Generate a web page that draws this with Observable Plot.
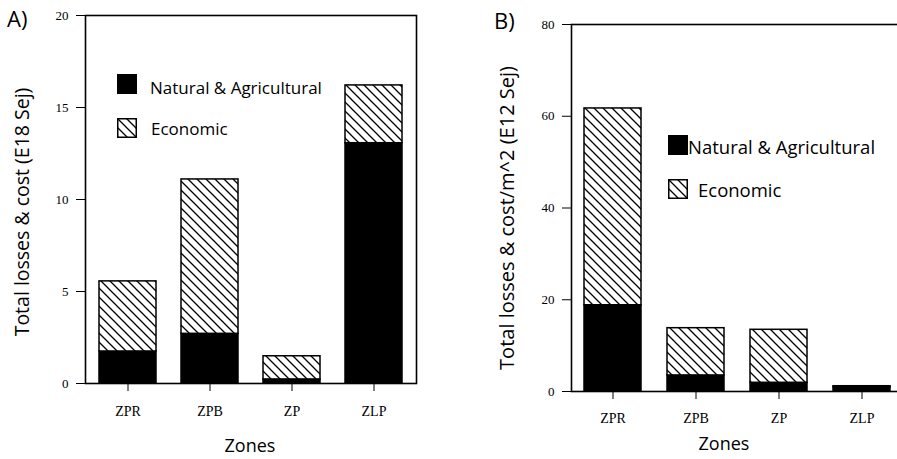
<!DOCTYPE html>
<html><head><meta charset="utf-8">
<script src="https://cdn.jsdelivr.net/npm/d3@7"></script>
<script src="https://cdn.jsdelivr.net/npm/@observablehq/plot@0.6"></script>
<style>
html,body{margin:0;padding:0;width:897px;height:459px;overflow:hidden;background:#fff;}
#root{position:relative;width:897px;height:459px;}
.abs{position:absolute;line-height:1;white-space:nowrap;}
.sans{font-family:"Open Sans",Lato,sans-serif;color:#000;}
.ytitle{position:absolute;line-height:1;transform-origin:center center;transform:translate(-50%,-50%) rotate(-90deg);white-space:nowrap;}
.leg{position:absolute;white-space:nowrap;line-height:1;}
</style>
</head><body>
<svg width="0" height="0" style="position:absolute">
 <defs>
  <pattern id="hatch" patternUnits="userSpaceOnUse" width="9" height="9">
   <rect width="9" height="9" fill="#fff"/>
   <path d="M-2,-2 L11,11 M-2,7 L2,11 M7,-2 L11,2" stroke="#000" stroke-width="1.3"/>
  </pattern>
 </defs>
</svg>
<div id="root"></div>
<script>
const zones = ["ZPR","ZPB","ZP","ZLP"];
const types = ["Natural & Agricultural","Economic"];
// Panel A: Total losses & cost (E18 Sej)
const naturalA = [1.74, 2.7, 0.22, 13.06];
const economicA = [3.81, 8.39, 1.26, 3.14];
const ticksA = [0,5,10,15,20];
// Panel B: Total losses & cost/m^2 (E12 Sej)
const naturalB = [18.8, 3.5, 1.9, 0.95];
const economicB = [42.9, 10.3, 11.55, 0.2];
const ticksB = [0,20,40,60,80];

function rows(nat, eco){
  const r = [];
  zones.forEach((z,i)=>{ r.push({zone:z,type:types[0],value:nat[i]}); r.push({zone:z,type:types[1],value:eco[i]}); });
  return r;
}

function panel({data, ticks, width, height, mt, mr, mb, ml, xpad}){
  return Plot.plot({
    width, height, marginTop: mt, marginRight: mr, marginBottom: mb, marginLeft: ml,
    style: {fontFamily: '"Liberation Serif", serif', fontSize: "13px", color: "#000", background: "transparent"},
    x: {domain: zones, paddingInner: 0.31, paddingOuter: 0.155, label: null, tickSize: 8, tickPadding: xpad},
    y: {domain: [ticks[0], ticks[ticks.length-1]], ticks, label: null, tickSize: 9, tickPadding: 8},
    color: {domain: types, range: ["#000", "url(#hatch)"]},
    marks: [
      Plot.barY(data, Plot.stackY({x: "zone", y: "value", fill: "type", stroke: "#000", strokeWidth: 1.5})),
      Plot.frame({stroke: "#000", strokeWidth: 1.6})
    ]
  });
}

const root = document.getElementById("root");

const a = panel({data: rows(naturalA, economicA), ticks: ticksA, width: 450, height: 459, mt: 15, mr: 34, mb: 76, ml: 85, xpad: 15});
a.style.position = "absolute"; a.style.left = "0px"; a.style.top = "0px";
root.appendChild(a);

const b = panel({data: rows(naturalB, economicB), ticks: ticksB, width: 470, height: 459, mt: 24, mr: 16, mb: 68, ml: 121, xpad: 14});
b.style.position = "absolute"; b.style.left = "450px"; b.style.top = "0px";
root.appendChild(b);

for (const s of [a,b]) {
  s.querySelectorAll('[aria-label="x-axis tick label"] text').forEach(t=>t.style.fontSize="14px");
}

function addText(html, cls, x, y, extra){
  const d = document.createElement("div");
  d.className = cls + " sans";
  d.innerHTML = html;
  d.style.left = x + "px"; d.style.top = y + "px";
  if (extra) Object.assign(d.style, extra);
  root.appendChild(d);
  return d;
}
function swatch(fill, x, y){
  const d = document.createElement("div");
  d.style.position = "absolute"; d.style.left = x + "px"; d.style.top = y + "px";
  d.innerHTML = `<svg width="20" height="20" style="display:block"><rect x="0.75" y="0.75" width="18.5" height="18.5" fill="${fill}" stroke="#000" stroke-width="1.5"/></svg>`;
  root.appendChild(d);
}

// Panel labels
addText("A)", "abs", 7, 7, {fontSize: "22px"});
addText("B)", "abs", 494, 9, {fontSize: "22px"});
// Axis titles
addText("Total losses &amp; cost (E18 Sej)", "ytitle", 22, 212, {fontSize: "19.5px"});
addText("Total losses &amp; cost/m^2 (E12 Sej)", "ytitle", 507, 218, {fontSize: "20px"});
addText("Zones", "abs", 250, 436, {fontSize: "18px", transform: "translateX(-50%)"});
addText("Zones", "abs", 724, 434, {fontSize: "18px", transform: "translateX(-50%)"});
// Legends (swatch + label)
swatch("#000", 117, 74);
addText(types[0], "leg", 150, 79, {fontSize: "17px"});
swatch("url(#hatch)", 117, 118);
addText(types[1], "leg", 151, 120, {fontSize: "17px"});
swatch("#000", 668, 135);
addText(types[0], "leg", 688, 138, {fontSize: "18.5px"});
swatch("url(#hatch)", 668, 179);
addText(types[1], "leg", 698, 181, {fontSize: "18.5px"});
</script>
</body></html>
